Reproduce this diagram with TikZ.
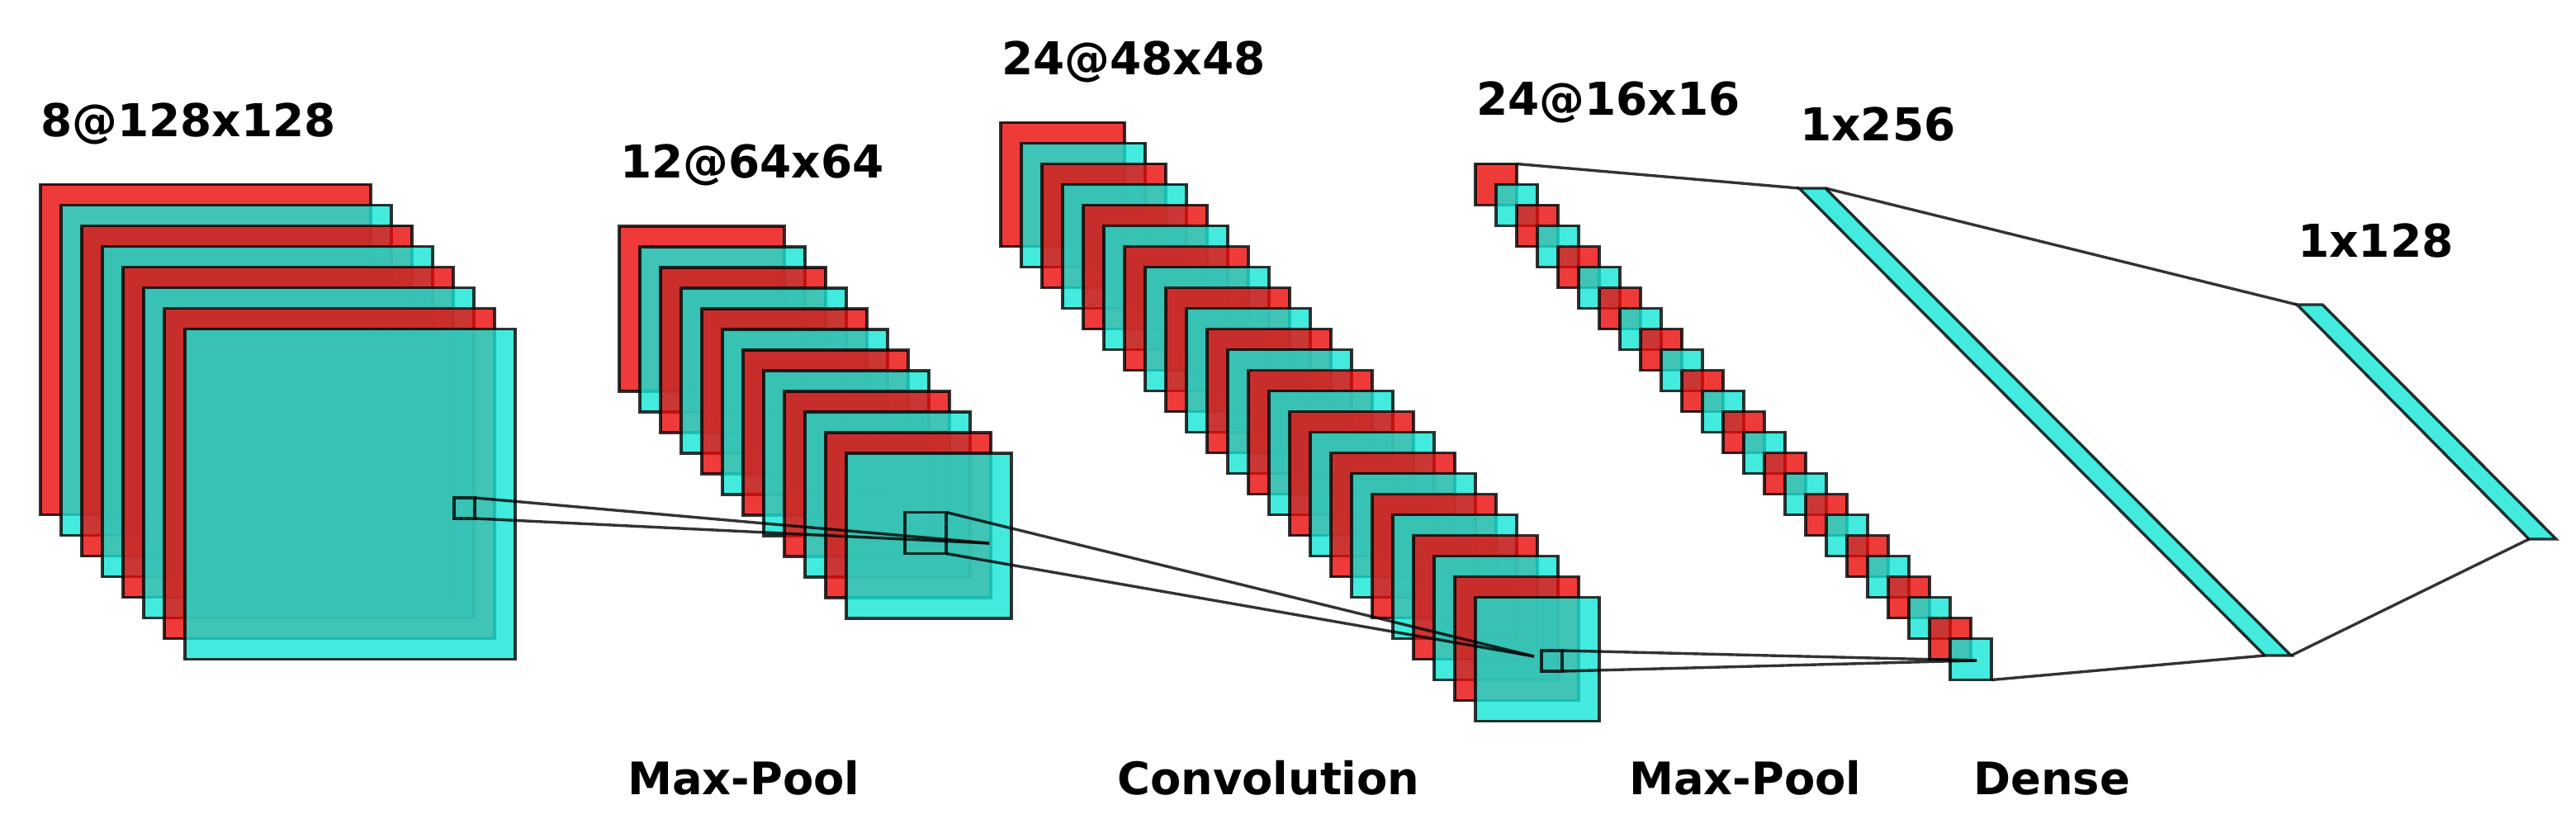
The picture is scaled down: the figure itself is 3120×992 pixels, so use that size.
\documentclass[tikz,border=0pt]{standalone}
\usepackage{fontspec}
\setmainfont{DejaVu Sans}
\definecolor{cnnred}{RGB}{236,9,9}
\definecolor{cnnteal}{RGB}{19,231,214}
\tikzset{
  x=1pt,y=-1pt,
  mapred/.style={draw=black,line width=3.4pt,draw opacity=.8,fill=cnnred,fill opacity=.8,rectangle,inner sep=0pt,outer sep=0pt,anchor=north west},
  mapteal/.style={mapred,fill=cnnteal},
  densebox/.style={draw=black,line width=3.4pt,draw opacity=.8,fill=cnnteal,fill opacity=.8,line join=miter},
  focusbox/.style={draw=black,line width=3.4pt,draw opacity=.8,rectangle,inner sep=0pt,outer sep=0pt,anchor=north west,minimum size=25pt},
  linkline/.style={draw=black,line width=3.4pt,draw opacity=.8},
  lab/.style={font=\fontsize{54.9pt}{60pt}\selectfont\bfseries,text=black,anchor=base west,inner sep=0pt},
  wordlab/.style={lab,font=\fontsize{54.3pt}{60pt}\selectfont\bfseries},
}
\newcommand{\mapstack}[5]{% prefix, count, x0, y0, size
  \foreach \i [evaluate=\i as \xx using {#3+25*(\i-1)},evaluate=\i as \yy using {#4+25*(\i-1)},evaluate=\i as \pr using {int(mod(\i,2))}] in {1,...,#2}{
    \ifnum\pr=1
      \node[mapred,minimum size=#5pt] (#1\i) at (\xx,\yy) {};
    \else
      \node[mapteal,minimum size=#5pt] (#1\i) at (\xx,\yy) {};
    \fi
  }
}
\begin{document}
\begin{tikzpicture}
\path[use as bounding box,fill=white] (0,0) rectangle (3120,992);
\mapstack{a}{8}{49}{223.5}{400}
\mapstack{b}{12}{750}{274}{200}
\mapstack{c}{24}{1212}{148.5}{150}
\mapstack{d}{24}{1787}{198.5}{50}
% dense layers
\coordinate (e1) at (2179,228); \coordinate (e2) at (2211,228);
\coordinate (e3) at (2775,794); \coordinate (e4) at (2743,794);
\coordinate (f1) at (2782,369); \coordinate (f2) at (2813,369);
\coordinate (f3) at (3096,653); \coordinate (f4) at (3063,653);
\draw[densebox] (e1)--(e2)--(e3)--(e4)--cycle;
\draw[densebox] (f1)--(f2)--(f3)--(f4)--cycle;
% focus windows
\node[focusbox] (s1) at (550,603) {};
\node[focusbox,minimum size=50pt] (s2) at (1096,620.5) {};
\node[focusbox] (s3) at (1867,788) {};
\coordinate (t2) at (1198,658);
\coordinate (t3) at (1858,795);
\coordinate (t4) at (2394,800);
\draw[linkline] (s1.north east)--(t2);
\draw[linkline] (s1.south east)--(t2);
\draw[linkline] (s2.north east)--(t3);
\draw[linkline] (s2.south east)--(t3);
\draw[linkline] (s3.north east)--(t4);
\draw[linkline] (s3.south east)--(t4);
\draw[linkline] (d1.north east)--(e1);
\draw[linkline] (d24.south east)--(e4);
\draw[linkline] (e2)--(f1);
\draw[linkline] (e3)--(f4);
% labels
\node[lab] (l1) at (49,165.5) {8@128x128};
\node[lab] (l2) at (751,215.5) {12@64x64};
\node[lab] (l3) at (1213,90.5) {24@48x48};
\node[lab] (l4) at (1788,140) {24@16x16};
\node[lab] (l5) at (2180,171) {1x256};
\node[lab] (l6) at (2783,312) {1x128};
\node[wordlab] (l7) at (760,962) {Max-Pool};
\node[wordlab] (l8) at (1353,962) {Convolution};
\node[wordlab] (l9) at (1973,962) {Max-Pool};
\node[wordlab] (l10) at (2390,962) {Dense};
\end{tikzpicture}
\end{document}
